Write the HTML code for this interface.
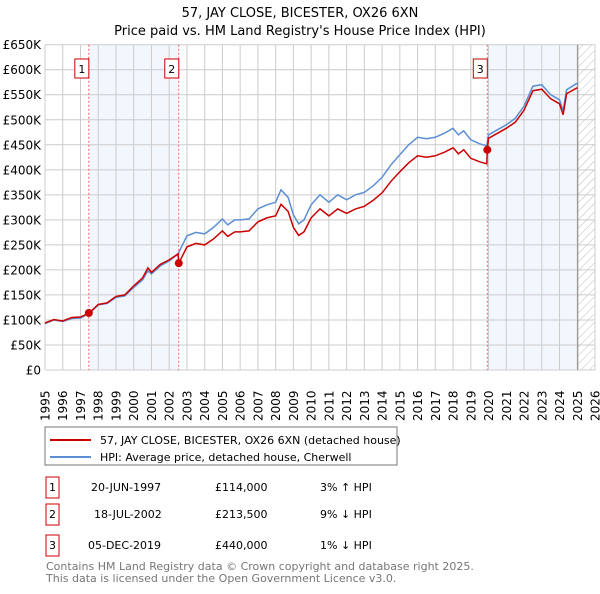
<!DOCTYPE html>
<html><head><meta charset="utf-8"><style>
body{margin:0;background:#fff;width:600px;height:590px;overflow:hidden;font-family:"DejaVu Sans","Liberation Sans",sans-serif;}
svg text{font-family:"DejaVu Sans","Liberation Sans",sans-serif;}
</style></head><body>
<svg id="c" width="600" height="590" xmlns="http://www.w3.org/2000/svg">
<defs><pattern id="hatch" width="6" height="6" patternUnits="userSpaceOnUse" patternTransform="rotate(45)"><line x1="0" y1="0" x2="0" y2="6" stroke="#bbb" stroke-width="1"/></pattern></defs>
<text x="300" y="17" text-anchor="middle" font-size="13" fill="#000">57, JAY CLOSE, BICESTER, OX26 6XN</text>
<text x="300" y="35" text-anchor="middle" font-size="13" fill="#000">Price paid vs. HM Land Registry's House Price Index (HPI)</text>
<g id="plot"></g>
<rect x="45" y="427" width="352" height="38" fill="#fff" stroke="#777"/>
<line x1="50" y1="440" x2="91" y2="440" stroke="#cc0000" stroke-width="2"/>
<text x="100" y="444" font-size="11">57, JAY CLOSE, BICESTER, OX26 6XN (detached house)</text>
<line x1="50" y1="457" x2="91" y2="457" stroke="#5b8fd4" stroke-width="2"/>
<text x="100" y="461" font-size="11">HPI: Average price, detached house, Cherwell</text>
<g font-size="11">
<rect x="46" y="477" width="13" height="21" fill="none" stroke="#cc0000"/><text x="52.5" y="491" text-anchor="middle">1</text>
<text x="91" y="491">20-JUN-1997</text><text x="215" y="491">£114,000</text><text x="320" y="491">3% ↑ HPI</text>
<rect x="46" y="504" width="13" height="21" fill="none" stroke="#cc0000"/><text x="52.5" y="518" text-anchor="middle">2</text>
<text x="94" y="518">18-JUL-2002</text><text x="215" y="518">£213,500</text><text x="320" y="518">9% ↓ HPI</text>
<rect x="46" y="535" width="13" height="21" fill="none" stroke="#cc0000"/><text x="52.5" y="549" text-anchor="middle">3</text>
<text x="88" y="549">05-DEC-2019</text><text x="215" y="549">£440,000</text><text x="320" y="549">1% ↓ HPI</text>
</g>
<text x="46" y="570" font-size="11" fill="#777">Contains HM Land Registry data © Crown copyright and database right 2025.</text>
<text x="46" y="582" font-size="11" fill="#777">This data is licensed under the Open Government Licence v3.0.</text>
</svg>
<script>
const hpiYears=[1995.0,1995.5,1996.0,1996.5,1997.0,1997.5,1998.0,1998.5,1999.0,1999.5,2000.0,2000.5,2000.8,2001.0,2001.5,2002.0,2002.5,2003.0,2003.5,2004.0,2004.5,2005.0,2005.3,2005.7,2006.0,2006.5,2007.0,2007.5,2008.0,2008.3,2008.7,2009.0,2009.3,2009.6,2010.0,2010.5,2011.0,2011.5,2012.0,2012.5,2013.0,2013.5,2014.0,2014.5,2015.0,2015.5,2016.0,2016.5,2017.0,2017.5,2018.0,2018.3,2018.6,2019.0,2019.5,2019.9,2020.0,2020.5,2021.0,2021.5,2022.0,2022.5,2023.0,2023.5,2024.0,2024.2,2024.4,2025.0];
const hpiValues=[93,100,97,103,104,113,130,133,145,148,165,180,198,192,208,218,232,268,275,272,285,302,290,300,300,302,322,330,335,360,345,310,292,300,330,350,335,350,340,350,355,368,385,410,430,450,465,462,465,473,483,470,478,460,452,448,470,480,490,503,527,567,570,550,540,518,560,573];
const propYears=[1995.0,1995.5,1996.0,1996.5,1997.0,1997.5,1998.0,1998.5,1999.0,1999.5,2000.0,2000.5,2000.8,2001.0,2001.5,2002.0,2002.5,2002.54,2003.0,2003.5,2004.0,2004.5,2005.0,2005.3,2005.7,2006.0,2006.5,2007.0,2007.5,2008.0,2008.3,2008.7,2009.0,2009.3,2009.6,2010.0,2010.5,2011.0,2011.5,2012.0,2012.5,2013.0,2013.5,2014.0,2014.5,2015.0,2015.5,2016.0,2016.5,2017.0,2017.5,2018.0,2018.3,2018.6,2019.0,2019.5,2019.9,2019.93,2020.0,2020.5,2021.0,2021.5,2022.0,2022.5,2023.0,2023.5,2024.0,2024.2,2024.4,2025.0];
const propValues=[94,101,98,105,106,114,131,134,147,150,168,184,204,195,211,220,232,213.5,246,253,250,262,278,267,276,276,278,296,304,308,331,317,285,269,276,304,322,308,322,313,322,327,339,354,377,396,414,428,425,428,435,444,432,440,423,416,412,440,463,473,483,495,519,558,561,542,532,510,552,564];
const saleYears=[1997.47,2002.54,2019.93];
const saleValues=[114,213.5,440];
const saleLabels=["1","2","3"];
const yTicks=[0,50,100,150,200,250,300,350,400,450,500,550,600,650];
const xTicks=[1995,1996,1997,1998,1999,2000,2001,2002,2003,2004,2005,2006,2007,2008,2009,2010,2011,2012,2013,2014,2015,2016,2017,2018,2019,2020,2021,2022,2023,2024,2025,2026];
const dataEnd=2025.03;
const L=45,R=595,T=44.7,B=370;
const X=y=>L+(y-1995)/(2026-1995)*(R-L);
const Y=v=>B-v/650*(B-T);
const NS="http://www.w3.org/2000/svg";
const g=document.getElementById('plot');
function mk(t,a,p){const e=document.createElementNS(NS,t);for(const k in a)e.setAttribute(k,a[k]);(p||g).appendChild(e);return e;}
let e;
e=mk('rect',{x:X(saleYears[0]),y:T,width:X(saleYears[1])-X(saleYears[0]),height:B-T,fill:'#f2f6fd'});


e=mk('rect',{x:X(saleYears[2]),y:T,width:X(dataEnd)-X(saleYears[2]),height:B-T,fill:'#f2f6fd'});


e=mk('rect',{x:X(dataEnd),y:T,width:R-X(dataEnd),height:B-T,fill:'url(#hatch)'});


yTicks.forEach(v=>{
 e=mk('line',{x1:L,x2:R,y1:Y(v),y2:Y(v),stroke:'#ccc','stroke-width':1});
 
 
 e=mk('text',{x:L-4,y:Y(v)+4.5,'text-anchor':'end','font-size':12});
 e.textContent=v===0?'£0':'£'+v+'K';
 
 
});
xTicks.forEach(y=>{
 e=mk('line',{x1:X(y),x2:X(y),y1:T,y2:B,stroke:'#ccc','stroke-width':1});
 
 
 const tx=X(y)+4.5, ty=B+51;
 e=mk('text',{x:tx,y:ty,'font-size':12,transform:'rotate(-90 '+tx+' '+ty+')'});
 e.textContent=y;
 
 
});
e=mk('line',{x1:X(dataEnd),x2:X(dataEnd),y1:T,y2:B,stroke:'#888','stroke-width':1});


saleYears.forEach((s,i)=>{
 e=mk('line',{x1:X(s),x2:X(s),y1:T,y2:B,stroke:'#f06060','stroke-width':1,'stroke-dasharray':'2,2'});
 
 
 e=mk('rect',{x:X(s)-14,y:59,width:14,height:19,fill:'#fff',stroke:'#cc0000'});
 
 
 e=mk('text',{x:X(s)-7,y:73,'text-anchor':'middle','font-size':11});
 e.textContent=saleLabels[i];
 
 
});
const pts=(xs,vs)=>xs.map((x,i)=>X(x).toFixed(1)+','+Y(vs[i]).toFixed(1)).join(' ');
e=mk('polyline',{points:pts(hpiYears,hpiValues),fill:'none',stroke:'#5b8fd4','stroke-width':1.5});


e=mk('polyline',{points:pts(propYears,propValues),fill:'none',stroke:'#cc0000','stroke-width':1.5});


saleYears.forEach((s,i)=>{
 e=mk('circle',{cx:X(s),cy:Y(saleValues[i]),r:4,fill:'#cc0000'});
 
 
});
</script>
</body></html>
